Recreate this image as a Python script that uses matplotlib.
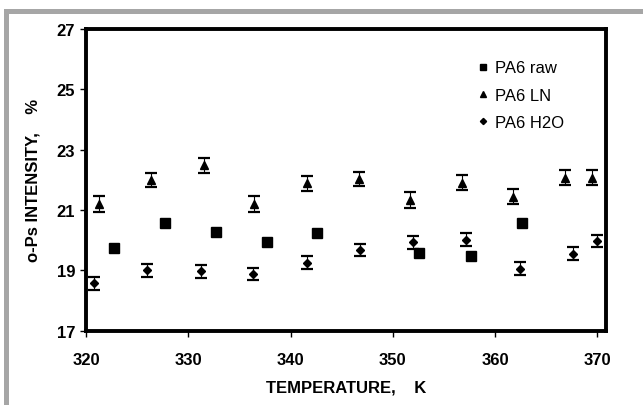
import matplotlib.pyplot as plt
from matplotlib.patches import Rectangle

plt.rcParams['font.family'] = ['Liberation Sans', 'DejaVu Sans']

# PA6 raw (no error bars)
t_raw = [322.7, 327.7, 332.7, 337.65, 342.6, 352.6, 357.65, 362.65]
i_raw = [19.75, 20.58, 20.28, 19.93, 20.25, 19.58, 19.47, 20.58]

# PA6 LN
t_ln = [321.25, 326.35, 331.5, 336.4, 341.6, 346.7, 351.7, 356.8, 361.8, 366.9, 369.5]
i_ln = [21.2, 22.0, 22.48, 21.2, 21.88, 22.02, 21.33, 21.9, 21.44, 22.07, 22.07]
e_ln = [0.26, 0.24, 0.24, 0.26, 0.25, 0.24, 0.26, 0.25, 0.25, 0.24, 0.25]

# PA6 H2O
t_h2o = [320.8, 325.95, 331.2, 336.3, 341.6, 346.8, 351.95, 357.2, 362.5, 367.65, 370.0]
i_h2o = [18.57, 19.0, 18.97, 18.88, 19.25, 19.68, 19.93, 20.02, 19.06, 19.55, 19.97]
e_h2o = [0.21, 0.22, 0.21, 0.21, 0.22, 0.2, 0.21, 0.21, 0.21, 0.22, 0.21]

fig = plt.figure(figsize=(6.43, 4.06), dpi=100)
fig.patches.append(Rectangle((6 / 643, -0.1), 1.2, (406 - 11.5) / 406 + 0.1,
                             transform=fig.transFigure, fill=False,
                             edgecolor='#a6a6a6', linewidth=3.6))

ax = fig.add_axes([86.3 / 643, 1 - 331.7 / 406, (606.3 - 86.3) / 643, (331.7 - 30) / 406])

ax.errorbar(t_ln, i_ln, yerr=e_ln, fmt='none', ecolor='black',
            elinewidth=0.8, capsize=4, capthick=1.6)
ax.errorbar(t_h2o, i_h2o, yerr=e_h2o, fmt='none', ecolor='black',
            elinewidth=0.8, capsize=4, capthick=1.6)

ax.plot(t_raw, i_raw, 's', color='black', markersize=7, label='PA6 raw')
ax.plot(t_ln, i_ln, '^', color='black', markersize=6, label='PA6 LN')
ax.plot(t_h2o, i_h2o, 'D', color='black', markersize=4.5, label='PA6 H2O')

ax.set_xlim(320, 370.9)
ax.set_ylim(17, 27)
ax.set_xticks([320, 330, 340, 350, 360, 370])
ax.set_yticks([17, 19, 21, 23, 25, 27])

for s in ax.spines.values():
    s.set_linewidth(2.8)

ax.tick_params(axis='x', direction='out', length=4, width=1, pad=11, labelsize=12)
ax.tick_params(axis='y', direction='out', length=4, width=1, pad=4, labelsize=12)
for lab in ax.get_xticklabels() + ax.get_yticklabels():
    lab.set_fontweight('bold')

ax.set_xlabel('TEMPERATURE,    K', fontsize=12, fontweight='bold', labelpad=9)
ax.set_ylabel('o-Ps INTENSITY,    %', fontsize=12, fontweight='bold', labelpad=12)

ax.legend(loc='upper left', bbox_to_anchor=(0.742, 0.918), frameon=False,
          fontsize=12, markerscale=0.7, handlelength=0.5, handletextpad=0.45,
          labelspacing=0.74, borderaxespad=0)

fig.savefig('out.png', dpi=100)
